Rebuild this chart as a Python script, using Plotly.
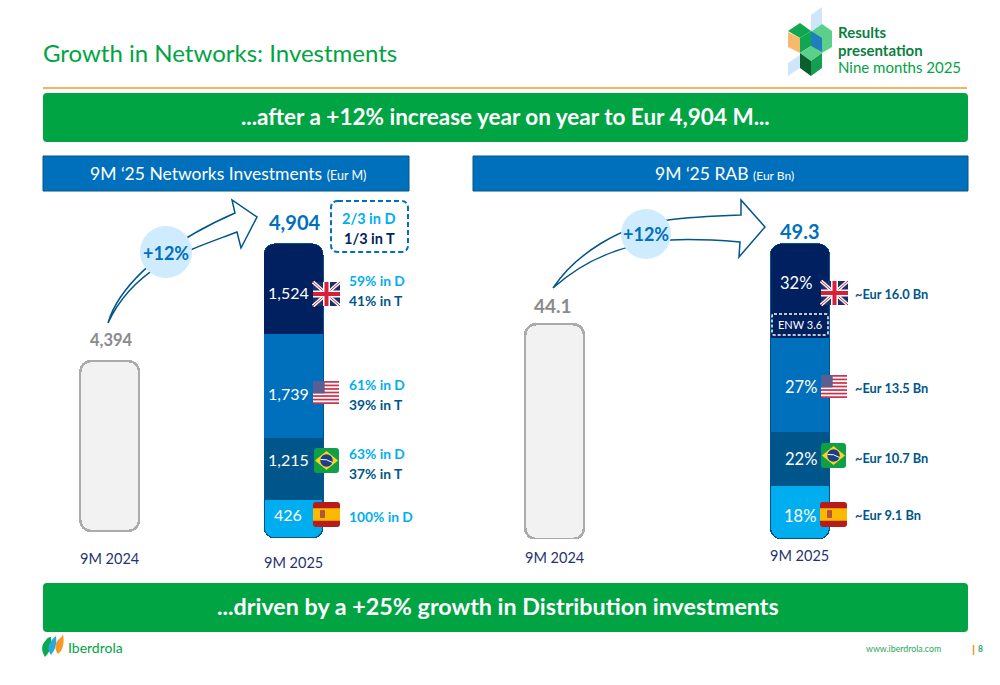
import plotly.graph_objects as go

# labels printed on the slide
categories = ["9M 2024", "9M 2025"]
net_2024_label = "4,394"
net_2025_label = "4,904"
net_labels = ["426", "1,215", "1,739", "1,524"]
rab_2024_label = "44.1"
rab_2025_label = "49.3"
rab_labels = ["18%", "22%", "27%", "32%"]

# segment heights as drawn on the slide (the slide is not to scale), bottom to top
net_2024 = 2835
net_2025 = [634, 1034, 1735, 1501]
rab_2024 = 35.9
rab_2025 = [8.9, 9.0, 15.7, 15.7]
countries = ["Spain", "Brazil", "US", "UK"]

net_splits = [["59% in D", "41% in T"], ["61% in D", "39% in T"], ["63% in D", "37% in T"], ["100% in D"]]
rab_amounts = ["~Eur 16.0 Bn", "~Eur 13.5 Bn", "~Eur 10.7 Bn", "~Eur 9.1 Bn"]

FONT = "Lato"
GREEN = "#00A443"
NAVY = "#00205F"
BLUE = "#0070BD"
DARK = "#00568A"
LIGHT = "#00AEEF"
seg_colors = [LIGHT, DARK, BLUE, NAVY]
GHOST = "#F2F2F2"
GHOST_LINE = "#ABABAB"
CAT_COLOR = "#1F3470"

W, H = 1000, 685


def dom_x(a, b):
    return [a / W, b / W]


def dom_y(top, bottom):
    return [1 - bottom / H, 1 - top / H]


def add_panel(xa, ya, ya_top, ghost, ghost_base, stack, width):
    # grey bar for the previous year
    fig.add_trace(go.Bar(
        x=categories[:1], y=[ghost], base=[ghost_base], width=width, xaxis=xa, yaxis=ya,
        marker=dict(color=GHOST, line=dict(color=GHOST_LINE, width=2.5)), hoverinfo="skip",
    ))
    # full height bar behind the stack: gives the outline and round bottom corners
    fig.add_trace(go.Bar(
        x=categories[1:], y=[sum(stack)], base=[0], width=width, xaxis=xa, yaxis=ya,
        marker=dict(color=LIGHT, line=dict(color=DARK, width=1.2)), hoverinfo="skip",
    ))
    # the lowest segment is see through, the bar behind shows there
    for i, c in enumerate(countries):
        fig.add_trace(go.Bar(
            x=categories[1:], y=[stack[i]], width=width, name=c, xaxis=xa, yaxis=ya_top,
            marker=dict(color="rgba(0,0,0,0)" if i == 0 else seg_colors[i], line=dict(width=0)),
        ))


fig = go.Figure()
add_panel("x", "y", "y4", net_2024, 117, net_2025, 0.32)
add_panel("x2", "y2", "y5", rab_2024, 0, rab_2025, 0.24)

shapes = []
annotations = []


def txt(x, y, s, size, color, bold=False, anchor="left"):
    # annotations carry about 2px of padding on the left
    annotations.append(dict(
        x=x - 2 if anchor == "left" else x, y=y, xref="x3", yref="y3", text=f"<b>{s}</b>" if bold else s,
        showarrow=False, xanchor=anchor, yanchor="middle", font=dict(family=FONT, size=size, color=color),
    ))


def cat_label(cat, xref, y):
    annotations.append(dict(x=cat, xref=xref, y=y, yref="y3", text=cat, showarrow=False, yanchor="middle",
                            font=dict(family=FONT, size=14.5, color=CAT_COLOR)))


def shape(path, fill="rgba(0,0,0,0)", line=None, width=0, dash=None):
    shapes.append(dict(
        type="path", path=path, xref="x3", yref="y3", fillcolor=fill, layer="above",
        line=dict(color=line or "rgba(0,0,0,0)", width=width, dash=dash or "solid"),
    ))


def round_rect(x0, y0, x1, y1, r):
    return (f"M{x0+r},{y0} L{x1-r},{y0} Q{x1},{y0} {x1},{y0+r} L{x1},{y1-r} Q{x1},{y1} {x1-r},{y1} "
            f"L{x0+r},{y1} Q{x0},{y1} {x0},{y1-r} L{x0},{y0+r} Q{x0},{y0} {x0+r},{y0} Z")


def poly(pts, fill):
    shape("M" + " L".join(f"{x},{y}" for x, y in pts) + " Z", fill=fill)


def circle(cx, cy, r, fill):
    shapes.append(dict(type="circle", xref="x3", yref="y3", x0=cx - r, x1=cx + r, y0=cy - r, y1=cy + r,
                       fillcolor=fill, line=dict(width=0), layer="above"))


# header
txt(43, 52, "Growth in Networks: Investments", 24, GREEN)
shape("M43,88 L967,88", line="#F39A2B", width=1.5)
txt(838, 32, "Results", 15, "#0B7F3F", bold=True)
txt(838, 50, "presentation", 15, "#0B7F3F", bold=True)
txt(838, 67, "Nine months 2025", 15, GREEN)

# hexagon logo
poly([(811, 15), (822, 7), (822, 30), (811, 38)], "#CDE6FA")
poly([(788, 63), (800, 55), (800, 68), (788, 76)], "#CDE6FA")
poly([(811, 32), (822, 24), (832, 31), (832, 47), (822, 53), (811, 47)], "#5BD08B")
poly([(788, 31), (800, 23), (811, 31), (800, 38)], "#0FA850")
poly([(800, 38), (811, 31), (811, 46), (800, 53)], "#0FA850")
poly([(788, 32), (800, 38), (800, 53), (788, 47)], "#F8B86E")
poly([(811, 31), (822, 38), (822, 52), (811, 46)], "#1F7FBF")
poly([(800, 53), (811, 46), (822, 53), (811, 61)], "#5BD08B")
poly([(800, 53), (811, 61), (811, 76), (800, 68)], "#0B5F2E")
poly([(811, 61), (822, 53), (822, 68), (811, 76)], "#12A050")

# banners
shape(round_rect(43, 93, 968, 142, 4), fill="#00A443")
txt(505, 116, "...after a +12% increase year on year to Eur 4,904 M...", 22.5, "white", bold=True, anchor="center")
shape(round_rect(43, 583, 968, 632, 4), fill="#00A443")
txt(498, 606, "...driven by a +25% growth in Distribution investments", 23.3, "white", bold=True, anchor="center")

# blue section headers
shape("M43,156 L409,156 L409,191 L43,191 Z", fill=BLUE, line=DARK, width=1)
shape("M473,156 L968,156 L968,191 L473,191 Z", fill=BLUE, line=DARK, width=1)
txt(90, 173, "9M ‘25 Networks Investments <span style='font-size:12.5px'>(Eur M)</span>", 17.5, "white")
txt(655, 173, "9M ‘25 RAB <span style='font-size:12px'>(Eur Bn)</span>", 17.5, "white")

# growth arrows
shape("M108,323 C116,295 150,250 235,213 L232,200 L257,217 L241,248 L237,232 C190,250 135,265 108,323 Z",
      line=DARK, width=1.5)
circle(166, 252, 26, "#CFECFF")
txt(166, 253, "+12%", 18, BLUE, bold=True, anchor="center")
shape("M553,288 C575,255 620,225 668,220 C690,217 715,216 741,215 L741,200 L765,227 L739,257 L740,242 "
      "C715,240 690,239 671,240 C630,243 590,255 553,288 Z", line=DARK, width=1.5)
circle(646, 234, 25, "#CFECFF")
txt(646, 234, "+12%", 18, BLUE, bold=True, anchor="center")

# left totals and labels
txt(111, 340, net_2024_label, 16.5, "#8A8A8A", bold=True, anchor="center")
txt(294, 222, net_2025_label, 20, BLUE, bold=True, anchor="center")
shape(round_rect(331, 201, 408, 252, 7), line=BLUE, width=2, dash="5px,3px")
txt(369, 218, "2/3 in D", 14.5, LIGHT, bold=True, anchor="center")
txt(369, 238, "1/3 in T", 14.5, NAVY, bold=True, anchor="center")
for s, y in zip(net_labels, [514, 459, 393, 292]):
    txt(288, y, s, 16, "white", anchor="center")
for pair, y in zip(net_splits, [280, 384, 453, 516]):
    txt(349, y, pair[0], 13.8, LIGHT, bold=True)
    if len(pair) > 1:
        txt(349, y + 20, pair[1], 13.8, DARK, bold=True)
cat_label(categories[0], "x", 558)
cat_label(categories[1], "x", 562)

# right totals and labels
txt(553, 305, rab_2024_label, 19, "#8A8A8A", bold=True, anchor="center")
txt(800, 231, rab_2025_label, 20, BLUE, bold=True, anchor="center")
for s, x, y in zip(rab_labels, [800, 801, 801, 796], [516, 459, 387, 283]):
    txt(x, y, s, 16.5, "white", anchor="center")
shape(round_rect(772, 314, 828, 335, 2), line="white", width=1.5, dash="3px,2px")
txt(800, 324, "ENW 3.6", 11, "white", anchor="center")
for s, y in zip(rab_amounts, [294, 388, 458, 515]):
    txt(855, y, s, 12.8, DARK, bold=True)
cat_label(categories[0], "x2", 557)
cat_label(categories[1], "x2", 555)


# flags
def flag_uk(x, y, w=27, h=24):
    shape(round_rect(x, y, x + w, y + h, 3), fill="#1B2F6B")
    shape(f"M{x},{y} L{x+w},{y+h} M{x+w},{y} L{x},{y+h}", line="white", width=3.5)
    shape(f"M{x},{y} L{x+w},{y+h} M{x+w},{y} L{x},{y+h}", line="#D8203A", width=1)
    shape(f"M{x+w/2},{y} L{x+w/2},{y+h} M{x},{y+h/2} L{x+w},{y+h/2}", line="white", width=7)
    shape(f"M{x+w/2},{y} L{x+w/2},{y+h} M{x},{y+h/2} L{x+w},{y+h/2}", line="#D8203A", width=4)


def flag_us(x, y, w=26, h=23):
    shape(round_rect(x, y, x + w, y + h, 3), fill="white")
    for k in range(7):
        yy = y + (k * 2 + 0.5) * h / 13
        shape(f"M{x},{yy} L{x+w},{yy}", line="#C9304A", width=1.7)
    shape(f"M{x},{y} L{x+w*0.45},{y} L{x+w*0.45},{y+h*0.54} L{x},{y+h*0.54} Z", fill="#5A5E92")


def flag_br(x, y, w=25, h=25):
    shape(round_rect(x, y, x + w, y + h, 3), fill="#0E9F48")
    shape(f"M{x+1},{y+h/2} L{x+w/2},{y+3} L{x+w-1},{y+h/2} L{x+w/2},{y+h-3} Z", fill="#FFD21F")
    circle(x + w / 2, y + h / 2, 6.2, "#1B3F8B")
    shape(f"M{x+w/2-6},{y+h/2-1} Q{x+w/2},{y+h/2-2} {x+w/2+6},{y+h/2+2}", line="white", width=1)


def flag_es(x, y, w=27, h=25):
    shape(round_rect(x, y, x + w, y + h, 3), fill="#B71C1C")
    shape(f"M{x},{y+h*0.25} L{x+w},{y+h*0.25} L{x+w},{y+h*0.75} L{x},{y+h*0.75} Z", fill="#FBB900")
    shape(round_rect(x + 7, y + 8, x + 12, y + 16, 1), fill="#B5533C")


flag_uk(313, 282)
flag_us(313, 381)
flag_br(314, 448)
flag_es(313, 502)
flag_uk(821, 281)
flag_us(821, 375)
flag_br(821, 443)
flag_es(820, 502)

# footer
shape("M46,640 C40,646 42,652 45,657 C50,652 52,646 51,637 C49,637 47,638 46,640 Z", fill="#0FA850")
shape("M52,640 C47,646 48,650 51,655 C55,650 57,645 56,636 C55,637 53,638 52,640 Z", fill="#29A9E0")
shape("M58,640 C54,645 55,650 58,654 C62,651 65,645 63,634 C62,637 60,638 58,640 Z", fill="#F39A2B")
txt(68, 647, "Iberdrola", 14, GREEN)
txt(866, 648, "www.iberdrola.com", 8.8, "#1FA85A")
shape("M973.5,645 L973.5,655", line="#F39A2B", width=1.5)
txt(978, 649, "8", 8.5, "#1FA85A", bold=True)

fig.update_layout(
    width=W, height=H, margin=dict(l=0, r=0, t=0, b=0), paper_bgcolor="white", plot_bgcolor="rgba(0,0,0,0)",
    barmode="stack", barcornerradius=11, showlegend=False,
    font=dict(family=FONT),
    xaxis=dict(domain=dom_x(54.5, 348.7), range=[-0.3, 1.3], type="category", categoryorder="array",
               categoryarray=categories, visible=False, fixedrange=True),
    yaxis=dict(domain=dom_y(200, 538), range=[0, (538 - 200) * 4904 / 294], visible=False, fixedrange=True),
    yaxis4=dict(domain=dom_y(200, 538), range=[0, (538 - 200) * 4904 / 294], visible=False, fixedrange=True,
                overlaying="y", anchor="x"),
    xaxis2=dict(domain=dom_x(481, 873.6), range=[-0.3, 1.3], type="category", categoryorder="array",
                categoryarray=categories, visible=False, fixedrange=True),
    yaxis2=dict(domain=dom_y(200, 539), range=[0, (539 - 200) * 49.3 / 295], visible=False, fixedrange=True),
    yaxis5=dict(domain=dom_y(200, 539), range=[0, (539 - 200) * 49.3 / 295], visible=False, fixedrange=True,
                overlaying="y2", anchor="x2"),
    # page overlay axes in slide pixels, for banners, flags and callouts
    xaxis3=dict(domain=[0, 1], range=[0, W], visible=False, fixedrange=True, anchor="y3"),
    yaxis3=dict(domain=[0, 1], range=[H, 0], visible=False, fixedrange=True, anchor="x3"),
    shapes=shapes,
    annotations=annotations,
)

fig.write_html("out.html", config={"displayModeBar": False},
               post_script="document.body.style.margin='0';document.body.style.overflow='hidden';")
